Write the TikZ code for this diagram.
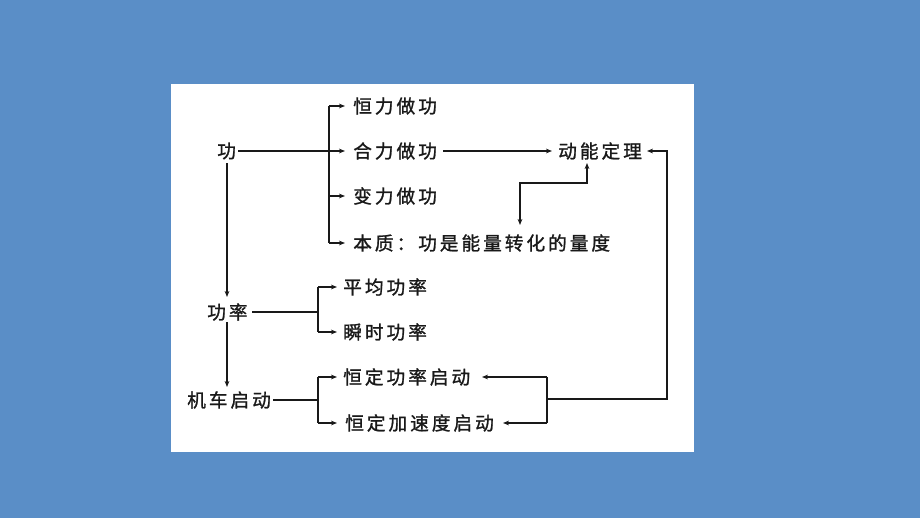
\documentclass[tikz,border=0pt]{standalone}
\usepackage{fontspec}
\newfontfamily\cjk[LetterSpace=16,FakeBold=1.2]{Noto Sans CJK SC}
\usetikzlibrary{arrows.meta}
\definecolor{bgblue}{RGB}{90,142,199}
\definecolor{ink}{RGB}{25,25,25}
\tikzset{
  lbl/.style={anchor=west,inner sep=0pt,font=\cjk\fontsize{14}{16}\selectfont,text=ink},
  ln/.style={draw=ink,line width=0.8pt},
  arr/.style={ln,-{Stealth[length=4.5pt,width=3.5pt]}},
  darr/.style={ln,{Stealth[length=4.5pt,width=3.5pt]}-{Stealth[length=4.5pt,width=3.5pt]}}
}
\begin{document}
\begin{tikzpicture}[x=0.75pt,y=-0.75pt]
\fill[bgblue] (0,0) rectangle (920,518);
\fill[white] (171,84) rectangle (694,452);
\useasboundingbox (0,0) rectangle (920,518);

% nodes
\node[lbl] (gong) at (217,151) {功};
\node[lbl] (hengli) at (353,106) {恒力做功};
\node[lbl] (heli) at (353,151) {合力做功};
\node[lbl] (bianli) at (353,196) {变力做功};
\node[lbl] (benzhi) at (353,243) {本质：功是能量转化的量度};
\node[lbl] (dongneng) at (558,151) {动能定理};
\node[lbl] (gonglv) at (207,312) {功率};
\node[lbl] (pingjun) at (343,287) {平均功率};
\node[lbl] (shunshi) at (343,332) {瞬时功率};
\node[lbl] (jiche) at (187,400) {机车启动};
\node[lbl] (hd1) at (343,377) {恒定功率启动};
\node[lbl] (hd2) at (345,423) {恒定加速度启动};

% coordinates
\coordinate (gE) at (238,151);
\coordinate (b1t) at (329,106);
\coordinate (b1c) at (329,196);
\coordinate (b1b) at (329,243);
\coordinate (t1) at (345,106);
\coordinate (t2) at (345,151);
\coordinate (t3) at (345,196);
\coordinate (t4) at (345,243);
\coordinate (hE) at (443,151);
\coordinate (dW) at (552,151);
\coordinate (dE) at (647,151);
\coordinate (dB) at (587,163);
\coordinate (dn) at (520,225);
\coordinate (gB) at (227,163);
\coordinate (glT) at (227,297);
\coordinate (glB) at (227,322);
\coordinate (jcT) at (227,387);
\coordinate (glE) at (252,312);
\coordinate (b2m) at (318,312);
\coordinate (b2t) at (318,287);
\coordinate (b2b) at (318,332);
\coordinate (p1) at (337,287);
\coordinate (p2) at (337,332);
\coordinate (jcE) at (273,400);
\coordinate (b3m) at (318,400);
\coordinate (b3t) at (318,377);
\coordinate (b3b) at (318,423);
\coordinate (q1) at (337,377);
\coordinate (q2) at (337,423);
\coordinate (r1) at (482,377);
\coordinate (r2) at (503,423);
\coordinate (b4t) at (547,377);
\coordinate (b4b) at (547,423);
\coordinate (b4m) at (547,399);
\coordinate (loop) at (667,399);

% connectors: work
\draw[arr] (gE) -- (t2);
\draw[ln] (b1t) -- (b1b);
\draw[arr] (b1t) -- (t1);
\draw[arr] (b1c) -- (t3);
\draw[arr] (b1b) -- (t4);
\draw[arr] (hE) -- (dW);
\draw[darr] (dn) |- (553.5,183) -| (dB);
\draw[arr] (gB) -- (glT);
% power
\draw[ln] (glE) -- (b2m);
\draw[ln] (b2t) -- (b2b);
\draw[arr] (b2t) -- (p1);
\draw[arr] (b2b) -- (p2);
\draw[arr] (glB) -- (jcT);
% locomotive
\draw[ln] (jcE) -- (b3m);
\draw[ln] (b3t) -- (b3b);
\draw[arr] (b3t) -- (q1);
\draw[arr] (b3b) -- (q2);
\draw[ln] (b4t) -- (b4b);
\draw[arr] (b4t) -- (r1);
\draw[arr] (b4b) -- (r2);
\draw[arr] (b4m) -- (loop) |- (dE);
\end{tikzpicture}
\end{document}
